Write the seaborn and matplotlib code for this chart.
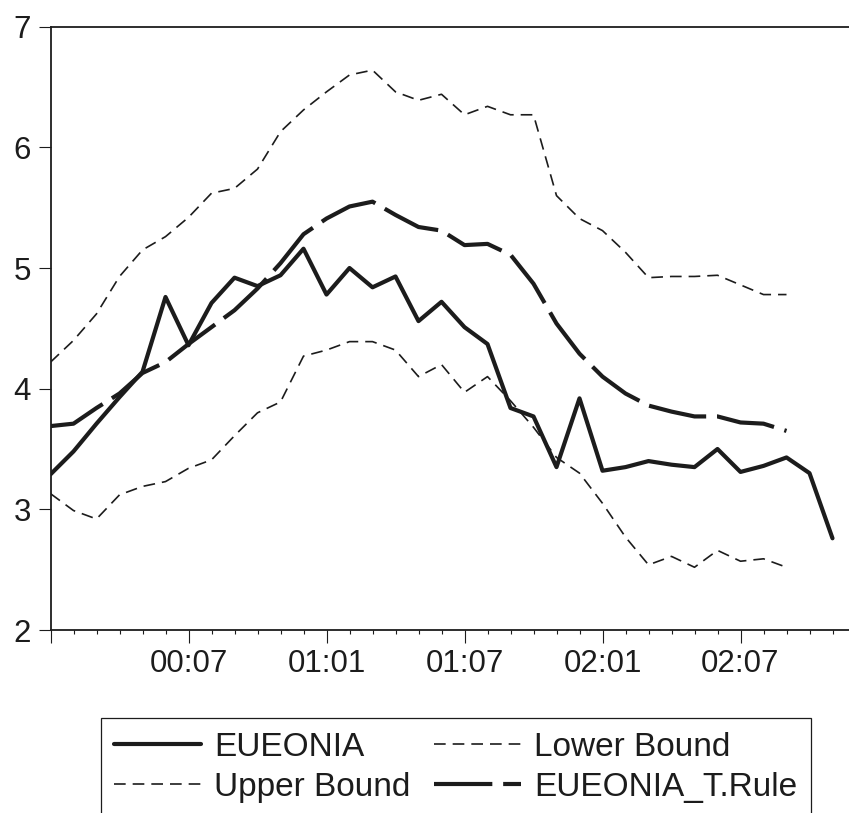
import numpy as np
import pandas as pd
import matplotlib
matplotlib.use("Agg")
import matplotlib.pyplot as plt
import seaborn as sns
from matplotlib.ticker import FixedLocator, FixedFormatter

# ---- data (monthly, 2000:01 .. 2002:11) ----
eueonia = [3.29, 3.48, 3.71, 3.93, 4.14, 4.76, 4.36, 4.71, 4.92, 4.85,
           4.94, 5.16, 4.78, 5.00, 4.84, 4.93, 4.56, 4.72, 4.51, 4.37,
           3.84, 3.77, 3.35, 3.92, 3.32, 3.35, 3.40, 3.37, 3.35, 3.50,
           3.31, 3.36, 3.43, 3.30, 2.76]
t_rule = [3.69, 3.71, 3.84, 3.96, 4.13, 4.22, 4.37, 4.51, 4.65, 4.83,
          5.04, 5.28, 5.41, 5.51, 5.55, 5.44, 5.34, 5.31, 5.19, 5.20,
          5.11, 4.87, 4.54, 4.29, 4.10, 3.96, 3.86, 3.81, 3.77, 3.77,
          3.72, 3.71, 3.65]
upper = [4.22, 4.40, 4.62, 4.93, 5.15, 5.26, 5.42, 5.62, 5.66, 5.82,
         6.13, 6.31, 6.46, 6.60, 6.64, 6.46, 6.39, 6.44, 6.27, 6.34,
         6.27, 6.27, 5.60, 5.41, 5.31, 5.13, 4.92, 4.93, 4.93, 4.94,
         4.86, 4.78, 4.78]
lower = [3.13, 2.99, 2.92, 3.12, 3.19, 3.23, 3.34, 3.41, 3.61, 3.80,
         3.89, 4.27, 4.32, 4.39, 4.39, 4.32, 4.10, 4.20, 3.97, 4.10,
         3.90, 3.68, 3.43, 3.30, 3.05, 2.77, 2.54, 2.61, 2.52, 2.66,
         2.57, 2.59, 2.52]
major_ticks = [0, 6, 12, 18, 24, 30]
major_labels = ["", "00:07", "01:01", "01:07", "02:01", "02:07"]
y_ticks = [2, 3, 4, 5, 6, 7]

sns.set_style("ticks")
plt.rcParams["font.family"] = ["Liberation Sans", "DejaVu Sans"]

ink = "#1c1c1c"
fig = plt.figure(figsize=(8.49, 8.13), dpi=100)
W, H = 849, 813
left_px, top_px, bottom_px = 50.5, 26.7, 630.0
ax = fig.add_axes([left_px / W, 1 - bottom_px / H, 35 * 23 / W, (bottom_px - top_px) / H])

def frame(vals):
    return pd.DataFrame({"t": np.arange(len(vals)), "v": vals})

sns.lineplot(data=frame(eueonia), x="t", y="v", ax=ax, color=ink, lw=3.0,
             linestyle="-", label="EUEONIA")
sns.lineplot(data=frame(upper), x="t", y="v", ax=ax, color=ink, lw=1.2,
             linestyle=(0, (7.0, 4.2)), label="Upper Bound")
sns.lineplot(data=frame(lower), x="t", y="v", ax=ax, color=ink, lw=1.2,
             linestyle=(0, (7.0, 4.2)), label="Lower Bound")
sns.lineplot(data=frame(t_rule), x="t", y="v", ax=ax, color=ink, lw=3.0,
             linestyle=(0, (14, 2.6)), label="EUEONIA_T.Rule")

ax.set_xlim(0, 35)
ax.set_ylim(2, 7)
ax.set_xlabel("")
ax.set_ylabel("")
ax.set_yticks(y_ticks)
ax.set_yticklabels([str(v) for v in y_ticks])
ax.xaxis.set_major_locator(FixedLocator(major_ticks))
ax.xaxis.set_major_formatter(FixedFormatter(major_labels))
ax.xaxis.set_minor_locator(FixedLocator(list(range(1, 35))))

for s in ["left", "top", "bottom"]:
    ax.spines[s].set_linewidth(1.3)
    ax.spines[s].set_color(ink)
ax.spines["right"].set_visible(False)

ax.tick_params(axis="both", which="major", direction="out", length=9, width=0.8,
               color=ink, labelsize=22.5, labelcolor=ink, pad=5)
ax.tick_params(axis="x", which="minor", direction="out", length=3, width=0.8, color=ink)

ax.get_legend().remove()
h, l = ax.get_legend_handles_labels()
leg = fig.legend(h, l, loc="upper left", bbox_to_anchor=(101 / W, 1 - 718.3 / H),
                 ncol=2, fontsize=24, frameon=True, fancybox=False, shadow=False,
                 handlelength=2.6, handletextpad=0.4, columnspacing=0.7,
                 labelspacing=0.28, borderpad=0.4, borderaxespad=0)
leg.get_frame().set_edgecolor(ink)
leg.get_frame().set_linewidth(0.9)
leg.get_frame().set_alpha(1)
for txt in leg.get_texts():
    txt.set_color(ink)

fig.savefig("out.png", dpi=100)
